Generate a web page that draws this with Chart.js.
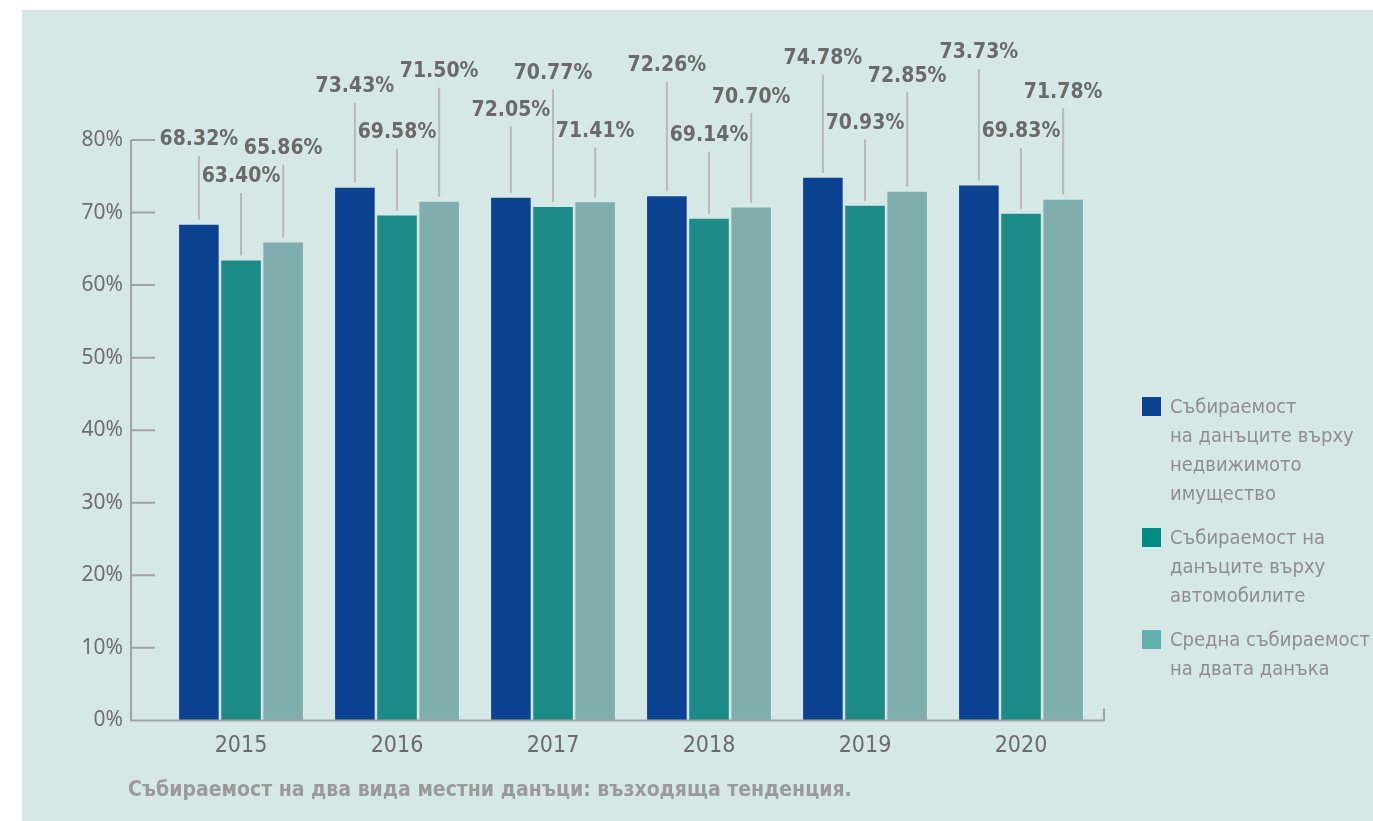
<!DOCTYPE html>
<html>
<head>
<meta charset="utf-8">
<script src="https://cdn.jsdelivr.net/npm/chart.js@4.4.1/dist/chart.umd.min.js"></script>
<style>
  html, body { margin: 0; padding: 0; background: #ffffff; }
  #chart { display: block; }
</style>
</head>
<body>
<canvas id="chart" width="1373" height="821"></canvas>
<script>
const years = ["2015", "2016", "2017", "2018", "2019", "2020"];
const propertyTax = [68.32, 73.43, 72.05, 72.26, 74.78, 73.73];
const vehicleTax = [63.4, 69.58, 70.77, 69.14, 70.93, 69.83];
const averageBoth = [65.86, 71.5, 71.41, 70.7, 72.85, 71.78];
const yTicks = [0, 10, 20, 30, 40, 50, 60, 70, 80];

const seriesNames = [
  ["Събираемост", "на данъците върху", "недвижимото", "имущество"],
  ["Събираемост на", "данъците върху", "автомобилите"],
  ["Средна събираемост", "на двата данъка"],
];
const chartTitle = "Събираемост на два вида местни данъци: възходяща тенденция.";

const condensed = "'Liberation Sans Narrow', 'DejaVu Sans Condensed', sans-serif";
const barColors = ["#0b4391", "#1d8b87", "#80aeaf"];
const swatchColors = ["#0a4393", "#008b84", "#62b0b0"];

function percent(value) {
  return value.toFixed(2) + "%";
}

// background panel, axis lines, labels with leader lines, legend and caption
const decorations = {
  id: "decorations",
  beforeDraw(chart) {
    const { ctx } = chart;
    ctx.save();
    ctx.fillStyle = "#d5e8e6";
    ctx.fillRect(22, 10, chart.width - 22, chart.height - 10);
    ctx.restore();
  },
  afterDraw(chart, args, opts) {
    const { ctx, chartArea } = chart;
    const y = chart.scales.y;
    const axisX = chartArea.left - 32;
    ctx.save();
    ctx.strokeStyle = "#a3a3a3";
    ctx.lineWidth = 2;
    ctx.beginPath();
    ctx.moveTo(axisX, y.getPixelForValue(80));
    ctx.lineTo(axisX, chartArea.bottom);
    ctx.lineTo(chartArea.right + 5, chartArea.bottom);
    ctx.lineTo(chartArea.right + 5, chartArea.bottom - 12);
    for (const t of yTicks) {
      const py = y.getPixelForValue(t);
      ctx.moveTo(axisX, py);
      ctx.lineTo(axisX + 24, py);
    }
    ctx.stroke();

    // value labels
    ctx.font = "bold 21px " + condensed;
    ctx.textAlign = "center";
    ctx.textBaseline = "middle";
    chart.data.datasets.forEach((ds, i) => {
      const meta = chart.getDatasetMeta(i);
      meta.data.forEach((bar, j) => {
        const ly = y.getPixelForValue(opts.levels[i][j]);
        ctx.strokeStyle = "#b9b9b9";
        ctx.lineWidth = 2;
        ctx.beginPath();
        ctx.moveTo(bar.x, ly + 16);
        ctx.lineTo(bar.x, bar.y - 5);
        ctx.stroke();
        ctx.fillStyle = "#6a6a6a";
        ctx.fillText(percent(ds.data[j]), bar.x, ly);
      });
    });

    // legend
    ctx.textAlign = "left";
    ctx.font = "20px " + condensed;
    let ly = 408;
    seriesNames.forEach((lines, i) => {
      ctx.fillStyle = swatchColors[i];
      ctx.fillRect(1142, ly - 11, 19, 19);
      ctx.fillStyle = "#8e8e8e";
      lines.forEach((line) => {
        ctx.fillText(line, 1170, ly);
        ly += 29;
      });
      ly += 15;
    });

    // caption
    ctx.font = "bold 21px " + condensed;
    ctx.fillStyle = "#9a9a9a";
    ctx.fillText(chartTitle, 128, 791);
    ctx.restore();
  },
};

new Chart(document.getElementById("chart"), {
  type: "bar",
  data: {
    labels: years,
    datasets: [
      { label: seriesNames[0].join(" "), data: propertyTax, backgroundColor: barColors[0] },
      { label: seriesNames[1].join(" "), data: vehicleTax, backgroundColor: barColors[1] },
      { label: seriesNames[2].join(" "), data: averageBoth, backgroundColor: barColors[2] },
    ],
  },
  plugins: [decorations],
  options: {
    responsive: false,
    animation: false,
    devicePixelRatio: 1,
    layout: { padding: { top: 140, right: 274, bottom: 57, left: 0 } },
    datasets: { bar: { categoryPercentage: 0.81, barPercentage: 0.94 } },
    scales: {
      x: {
        grid: { display: false },
        border: { display: false },
        ticks: { color: "#6b6b6b", font: { family: condensed, size: 23 }, padding: 4 },
      },
      y: {
        min: 0,
        max: 80,
        afterFit(scale) {
          scale.width = 163;
        },
        grid: { display: false, drawTicks: false },
        border: { display: false },
        ticks: {
          stepSize: 10,
          padding: 40,
          color: "#6e6e6e",
          font: { family: "'Noto Sans', sans-serif", size: 21 },
          callback: (v) => v + "%",
        },
      },
    },
    plugins: {
      legend: { display: false },
      tooltip: { enabled: false },
      decorations: {
        levels: [
          [80.0, 87.3, 84.1, 90.2, 91.2, 92.0],
          [74.9, 81.0, 89.2, 80.6, 82.3, 81.1],
          [78.8, 89.4, 81.2, 85.9, 88.8, 86.6],
        ],
      },
    },
  },
});
</script>
</body>
</html>
